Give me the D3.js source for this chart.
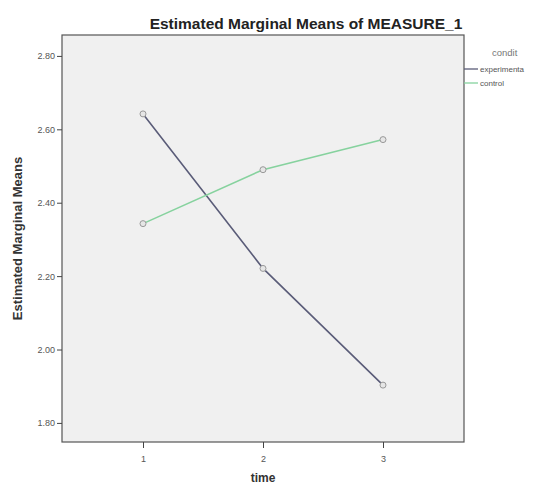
<!DOCTYPE html>
<head>
  <meta charset="utf-8">
  <script src="https://d3js.org/d3.v7.min.js"></script>
  <style>
    body { margin: 0; background: #fff; font-family: Arial, "Liberation Sans", sans-serif; }
    svg { display: block; }
    .tick text { fill: #555; font-size: 9px; }
    .tick line { stroke: #444; }
    .domain { display: none; }
  </style>
</head>
<body>
  <svg width="546" height="485"></svg>
  <script>
    // data
    var times = [1, 2, 3];
    var groups = ['experimenta', 'control'];
    var experimental = [2.642, 2.221, 1.903];
    var control = [2.343, 2.490, 2.572];
    var yTicks = [1.80, 2.00, 2.20, 2.40, 2.60, 2.80];
    var colors = ['#5a5c78', '#86d29e'];

    var margin = {left: 62, right: 464, top: 35, bottom: 442};
    var svg = d3.select('svg');

    var x = d3.scaleLinear().domain([0.325, 3.675]).range([margin.left, margin.right]);
    var y = d3.scaleLinear().domain([1.748, 2.857]).range([margin.bottom, margin.top]);

    // plot background
    svg.append('rect')
      .attr('x', margin.left).attr('y', margin.top)
      .attr('width', margin.right - margin.left)
      .attr('height', margin.bottom - margin.top)
      .attr('fill', '#f0f0f0')
      .attr('stroke', '#555').attr('stroke-width', 1.2);

    // axes
    svg.append('g')
      .attr('transform', 'translate(0,' + margin.bottom + ')')
      .call(d3.axisBottom(x).tickValues(times).tickSize(6).tickPadding(8).tickFormat(d3.format('d')));
    svg.append('g')
      .attr('transform', 'translate(' + margin.left + ',0)')
      .call(d3.axisLeft(y).tickValues(yTicks).tickSize(5).tickPadding(2).tickFormat(d3.format('.2f')));

    // series
    var series = [experimental, control];
    var line = d3.line()
      .x(function(d, i) { return x(times[i]); })
      .y(function(d) { return y(d); });

    series.forEach(function(vals, s) {
      svg.append('path')
        .attr('d', line(vals))
        .attr('fill', 'none')
        .attr('stroke', colors[s])
        .attr('stroke-width', 1.6);
      svg.selectAll('circle.s' + s)
        .data(vals).enter().append('circle')
        .attr('class', 's' + s)
        .attr('cx', function(d, i) { return x(times[i]); })
        .attr('cy', function(d) { return y(d); })
        .attr('r', 3)
        .attr('fill', '#e6e6e6')
        .attr('stroke', '#999')
        .attr('stroke-width', 1);
    });

    // title and axis labels
    svg.append('text')
      .attr('x', 306).attr('y', 29)
      .attr('text-anchor', 'middle')
      .style('font-weight', 'bold').style('font-size', '15.5px').style('fill', '#222')
      .text('Estimated Marginal Means of MEASURE_1');
    svg.append('text')
      .attr('transform', 'translate(22,' + (margin.top + margin.bottom) / 2 + ')rotate(-90)')
      .attr('text-anchor', 'middle')
      .style('font-weight', 'bold').style('font-size', '13px').style('fill', '#333')
      .text('Estimated Marginal Means');
    svg.append('text')
      .attr('x', x(2)).attr('y', 482)
      .attr('text-anchor', 'middle')
      .style('font-weight', 'bold').style('font-size', '12px').style('fill', '#333')
      .text('time');

    // legend
    svg.append('text')
      .attr('x', 492).attr('y', 56)
      .style('font-size', '9.5px').style('fill', '#777')
      .text('condit');
    groups.forEach(function(g, i) {
      var ly = 69 + i * 14;
      svg.append('line')
        .attr('x1', margin.right).attr('x2', margin.right + 14)
        .attr('y1', ly).attr('y2', ly)
        .attr('stroke', colors[i]).attr('stroke-width', 1.3);
      svg.append('text')
        .attr('x', margin.right + 16).attr('y', ly + 3)
        .style('font-size', '8px').style('fill', '#555')
        .text(g);
    });
  </script>
</body>
